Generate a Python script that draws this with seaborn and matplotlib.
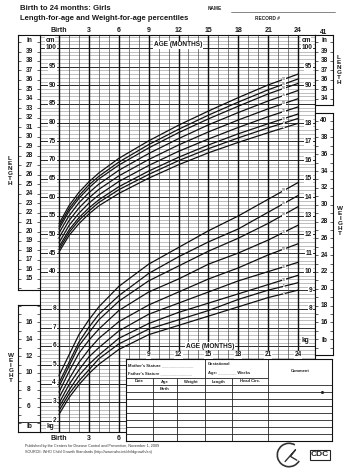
#%%
import numpy as np
import pandas as pd
import matplotlib
matplotlib.use("Agg")
import matplotlib.pyplot as plt
from matplotlib.lines import Line2D
from matplotlib.patches import Arc
import seaborn as sns

sns.set_theme(style="white")
plt.rcParams['font.family'] = ['Liberation Sans', 'DejaVu Sans']

#%% values
months = [0, 1, 2, 3, 4, 6, 9, 12, 15, 18, 21, 24]
percentiles = [2, 5, 10, 25, 50, 75, 90, 95, 98]

length_p2 = [45.3, 49.7, 52.9, 55.5, 57.7, 61.0, 65.1, 68.7, 71.9, 74.7, 77.3, 79.8]
length_p5 = [46.0, 50.5, 53.8, 56.3, 58.6, 62.0, 66.1, 69.8, 73.0, 75.9, 78.6, 81.1]
length_p10 = [46.7, 51.2, 54.5, 57.1, 59.3, 62.8, 67.0, 70.7, 74.0, 77.0, 79.7, 82.3]
length_p25 = [47.8, 52.4, 55.7, 58.4, 60.6, 64.2, 68.5, 72.3, 75.6, 78.7, 81.6, 84.2]
length_p50 = [49.1, 53.7, 57.1, 59.8, 62.1, 65.7, 70.1, 74.0, 77.5, 80.7, 83.7, 86.4]
length_p75 = [50.4, 55.0, 58.5, 61.2, 63.5, 67.2, 71.7, 75.7, 79.4, 82.7, 85.8, 88.6]
length_p90 = [51.5, 56.2, 59.7, 62.5, 64.9, 68.6, 73.2, 77.3, 81.0, 84.4, 87.7, 90.5]
length_p95 = [52.2, 56.9, 60.4, 63.3, 65.6, 69.4, 74.1, 78.2, 82.0, 85.5, 88.8, 91.7]
length_p98 = [52.9, 57.7, 61.3, 64.1, 66.5, 70.4, 75.1, 79.3, 83.1, 86.7, 90.1, 93.0]

weight_p2 = [2.3, 3.2, 3.9, 4.5, 5.0, 5.8, 6.6, 7.1, 7.6, 8.1, 8.6, 9.0]
weight_p5 = [2.5, 3.4, 4.1, 4.7, 5.3, 6.1, 6.9, 7.4, 7.9, 8.5, 9.0, 9.4]
weight_p10 = [2.7, 3.6, 4.4, 5.0, 5.5, 6.4, 7.2, 7.8, 8.3, 8.8, 9.3, 9.8]
weight_p25 = [2.9, 3.9, 4.7, 5.4, 5.9, 6.8, 7.7, 8.3, 8.9, 9.5, 10.0, 10.5]
weight_p50 = [3.2, 4.2, 5.1, 5.8, 6.4, 7.3, 8.2, 8.9, 9.6, 10.2, 10.9, 11.5]
weight_p75 = [3.5, 4.6, 5.6, 6.3, 6.9, 7.9, 8.9, 9.6, 10.4, 11.0, 11.7, 12.5]
weight_p90 = [3.8, 4.9, 6.0, 6.7, 7.4, 8.4, 9.5, 10.3, 11.1, 11.8, 12.6, 13.5]
weight_p95 = [4.0, 5.1, 6.2, 7.0, 7.7, 8.7, 9.9, 10.8, 11.6, 12.3, 13.2, 14.1]
weight_p98 = [4.4, 5.5, 6.6, 7.4, 8.1, 9.2, 10.4, 11.3, 12.2, 13.0, 13.9, 14.8]

length_curves = [length_p2, length_p5, length_p10, length_p25, length_p50,
                 length_p75, length_p90, length_p95, length_p98]
weight_curves = [weight_p2, weight_p5, weight_p10, weight_p25, weight_p50,
                 weight_p75, weight_p90, weight_p95, weight_p98]

month_ticks = [0, 3, 6, 9, 12, 15, 18, 21, 24]
month_labels = ['Birth', '3', '6', '9', '12', '15', '18', '21', '24']
cm_left = list(range(40, 101, 5))
cm_right = [90, 95, 100]
kg_left = list(range(2, 9))
kg_right = list(range(8, 19))
in_left = list(range(15, 40))
in_right = list(range(34, 40))
lb_left = list(range(6, 17, 2))
lb_right = list(range(16, 41, 2))

df_len = pd.DataFrame([(p, m, v) for p, vals in zip(percentiles, length_curves)
                       for m, v in zip(months, vals)], columns=['pct', 'month', 'cm'])
df_wt = pd.DataFrame([(p, m, v) for p, vals in zip(percentiles, weight_curves)
                      for m, v in zip(months, vals)], columns=['pct', 'month', 'kg'])

#%% layout helpers (pixel positions of the scanned form)
W_PX, H_PX = 352, 476
def box(x0, y0, x1, y1):
    return [x0 / W_PX, 1 - y1 / H_PX, (x1 - x0) / W_PX, (y1 - y0) / H_PX]
def cm_at(y): return 100 - (y - 48) / 3.73
def kg_at(y): return 2 - (y - 420) / 18.55
def mo_at(x): return (x - 59) / 9.96

fig = plt.figure(figsize=(3.52, 4.76), dpi=100)
fig.patch.set_facecolor('white')
def ftext(x, y, s, **kw):
    fig.text(x / W_PX, 1 - y / H_PX, s, **kw)

lab = dict(fontsize=4.7, fontweight='bold', color='#1a1a1a')
wbox = dict(facecolor='white', edgecolor='none', pad=0.4)

#%% main grid
ax = fig.add_axes(box(40, 35, 315, 432))
ax.set_xlim(mo_at(40), mo_at(315))
ax.set_ylim(cm_at(432), cm_at(35))
for v in range(-3, 104):
    dark = v % 5 == 0
    ax.axhline(v, color='#2a2a2a' if dark else '#8c8c8c', lw=0.7 if dark else 0.4, zorder=0)
for m in range(0, 25):
    big = m % 3 == 0
    ax.axvline(m, color='#111' if big else '#4a4a4a', lw=1.0 if big else 0.5, zorder=1)
for s in ax.spines.values():
    s.set_color('#111'); s.set_linewidth(0.8)
ax.set_yticks([])
ax.xaxis.tick_top()
ax.set_xticks(month_ticks)
ax.set_xticklabels(month_labels, fontsize=5.0, fontweight='bold', color='#1a1a1a')
ax.tick_params(axis='x', length=0, pad=1)

sns.lineplot(data=df_len, x='month', y='cm', hue='pct', palette=['#111'] * 9,
             legend=False, ax=ax, lw=0.9, zorder=3)
ax.set_xlabel(''); ax.set_ylabel('')

ax2 = ax.twinx()
ax2.set_ylim(kg_at(432), kg_at(35))
ax2.set_yticks([])
for s in ax2.spines.values():
    s.set_visible(False)
sns.lineplot(data=df_wt, x='month', y='kg', hue='pct', palette=['#111'] * 9,
             legend=False, ax=ax2, lw=0.9, zorder=3)
ax2.set_xlabel(''); ax2.set_ylabel('')

# percentile tags near the right end
for p, vals in zip(percentiles, length_curves):
    ax.text(22.6, np.interp(22.6, months, vals), str(p), fontsize=2.6, ha='center', va='center',
            color='#333', bbox=dict(facecolor='white', edgecolor='none', pad=0.1), zorder=4)
for p, vals in zip(percentiles, weight_curves):
    ax2.text(22.6, np.interp(22.6, months, vals), str(p), fontsize=2.6, ha='center', va='center',
             color='#333', bbox=dict(facecolor='white', edgecolor='none', pad=0.1), zorder=4)

# scale labels inside the grid columns
for v in cm_left:
    ax.text(mo_at(56), v, str(v), ha='right', va='center', bbox=wbox, **lab)
for v in cm_right:
    ax.text(mo_at(312), v, str(v), ha='right', va='center', bbox=wbox, **lab)
for v in kg_left:
    ax2.text(mo_at(56), v, str(v), ha='right', va='center', bbox=wbox, **lab)
for v in kg_right:
    ax2.text(mo_at(312), v, str(v), ha='right', va='center', bbox=wbox, **lab)
ax.text(mo_at(50), cm_at(40), 'cm', ha='center', va='center', bbox=wbox, **lab)
ax.text(mo_at(306), cm_at(40), 'cm', ha='center', va='center', bbox=wbox, **lab)
ax.text(mo_at(50), cm_at(427), 'kg', ha='center', va='center', bbox=wbox, **lab)
ax.text(mo_at(305), cm_at(340), 'kg', ha='center', va='center', bbox=wbox, **lab)
ax.text(mo_at(178), cm_at(45), 'AGE (MONTHS)', ha='center', va='center', bbox=wbox, **lab)
ax.text(mo_at(210), cm_at(346), 'AGE (MONTHS)', ha='center', va='center', bbox=wbox, **lab)
for m, t in zip(month_ticks[3:], month_labels[3:]):
    ax.text(m, cm_at(355), t, ha='center', va='center', bbox=wbox, **lab)
for m, t in zip(month_ticks[:3], month_labels[:3]):
    ax.text(m, cm_at(438), t, ha='center', va='center', clip_on=False, fontsize=5.0,
            fontweight='bold', color='#1a1a1a')

#%% side columns (in / lb)
def side_col(pix, lim, labels):
    a = fig.add_axes(box(*pix))
    a.set_xlim(0, 1); a.set_ylim(*lim)
    a.set_xticks([])
    a.set_yticks(np.arange(int(np.ceil(lim[0])), int(lim[1]) + 1))
    a.tick_params(axis='y', left=True, right=True, direction='in', length=2,
                  width=0.5, color='#222', labelleft=False)
    for s in a.spines.values():
        s.set_color('#111'); s.set_linewidth(0.8)
    for v in labels:
        a.text(0.5, v, str(v), ha='center', va='center', bbox=wbox, **lab)
    return a

ax_in = side_col((18, 35, 40, 290), (cm_at(290) / 2.54, cm_at(35) / 2.54), in_left)
ax_in.text(0.5, cm_at(40) / 2.54, 'in', ha='center', va='center', bbox=wbox, **lab)
ax_lb = side_col((18, 305, 40, 432), (kg_at(432) * 2.2046, kg_at(305) * 2.2046), lb_left)
ax_lb.axhline(kg_at(422) * 2.2046, color='#111', lw=0.6)
ax_lb.text(0.5, kg_at(427) * 2.2046, 'lb', ha='center', va='center', **lab)
ax_rin = side_col((315, 35, 333, 105), (cm_at(105) / 2.54, cm_at(35) / 2.54), in_right)
ax_rin.text(0.5, cm_at(40) / 2.54, 'in', ha='center', va='center', bbox=wbox, **lab)
ax_rin.text(0.5, 41, '41', ha='center', va='center', clip_on=False, **lab)
ax_rlb = side_col((315, 113, 333, 355), (kg_at(355) * 2.2046, kg_at(113) * 2.2046), lb_right)
ax_rlb.text(0.5, kg_at(340) * 2.2046, 'lb', ha='center', va='center', bbox=wbox, **lab)

#%% record table
axt = fig.add_axes(box(126, 359, 332, 441))
axt.set_xlim(126, 332); axt.set_ylim(441, 359)
axt.set_xticks([]); axt.set_yticks([])
axt.set_facecolor('white')
for s in axt.spines.values():
    s.set_color('#111'); s.set_linewidth(0.8)
lc = dict(color='#222', lw=0.6)
axt.vlines(205, 359, 378, **lc)
axt.vlines(268, 359, 441, **lc)
axt.hlines(378, 126, 268, **lc)
axt.vlines([153, 177, 205, 232], 378, 441, **lc)
axt.hlines([385, 392, 399, 406, 413, 420, 427, 434], 126, 332, **lc)
tt = dict(fontsize=3.0, color='#222', fontweight='bold')
axt.text(128, 365, "Mother's Stature ______________", va='center', **tt)
axt.text(128, 373, "Father's Stature ______________", va='center', **tt)
axt.text(208, 364, 'Gestational', va='center', **tt)
axt.text(208, 373, 'Age: ________ Weeks', va='center', **tt)
axt.text(300, 371, 'Comment', ha='center', va='center', **tt)
for x, t in zip([139.5, 165, 191, 218.5, 250], ['Date', 'Age', 'Weight', 'Length', 'Head Circ.']):
    axt.text(x, 381.5, t, ha='center', va='center', **tt)
axt.text(165, 389, 'Birth', ha='center', va='center', **tt)
axt.plot([322], [392], 'o', ms=1.2, color='#222')

#%% page text
ftext(20, 8, 'Birth to 24 months: Girls', fontsize=5.6, fontweight='bold', va='center', color='#1a1a1a')
ftext(20, 18, 'Length-for-age and Weight-for-age percentiles', fontsize=5.5,
      fontweight='bold', va='center', color='#1a1a1a')
ftext(208, 9, 'NAME', fontsize=3.4, fontweight='bold', va='center', color='#222')
fig.add_artist(Line2D([231 / W_PX, 335 / W_PX], [1 - 12 / H_PX] * 2, color='#555', lw=0.5))
ftext(255, 18, 'RECORD #', fontsize=3.4, fontweight='bold', va='center', color='#222')
side = dict(fontsize=4.6, fontweight='bold', ha='center', va='center', linespacing=1.0, color='#1a1a1a')
ftext(10, 171, '\n'.join('LENGTH'), **side)
ftext(339, 70, '\n'.join('LENGTH'), **side)
ftext(340, 221, '\n'.join('WEIGHT'), **side)
ftext(11, 368, '\n'.join('WEIGHT'), **side)
ftext(25, 446, 'Published by the Centers for Disease Control and Prevention, November 1, 2009',
      fontsize=2.7, va='center', color='#333')
ftext(25, 452, 'SOURCE: WHO Child Growth Standards (http://www.who.int/childgrowth/en)',
      fontsize=2.7, va='center', color='#333')

# logo corner
axl = fig.add_axes(box(276, 442, 302, 468))
axl.set_xlim(-1, 1); axl.set_ylim(-1, 1); axl.axis('off')
axl.add_patch(Arc((0, 0), 1.8, 1.8, theta1=60, theta2=330, color='#333', lw=1.2))
axl.plot([-0.3, 0.5, 0.1, 0.6], [-0.5, 0.4, -0.1, -0.4], color='#333', lw=1.0)
ftext(320, 455, 'CDC', fontsize=6, fontweight='bold', ha='center', va='center', color='#222',
      bbox=dict(facecolor='white', edgecolor='#222', pad=0.8, lw=0.8))

fig.savefig('out.png', dpi=100, facecolor='white')
